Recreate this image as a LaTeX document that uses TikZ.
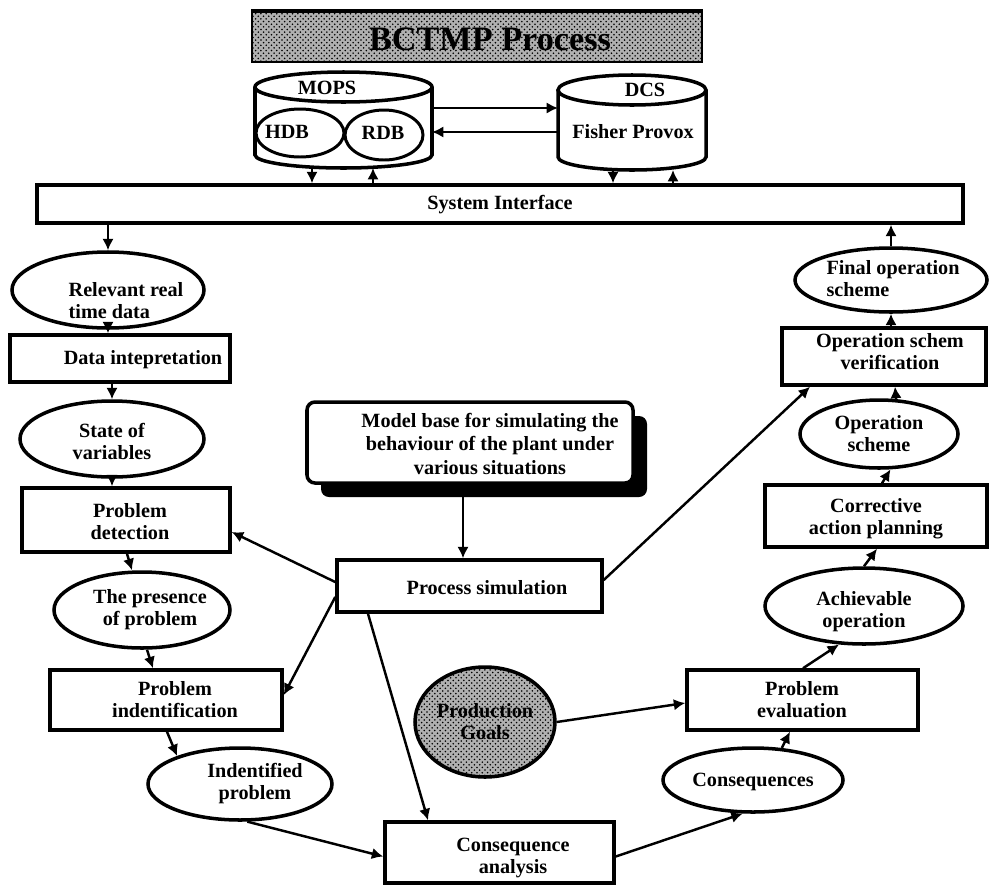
\documentclass[tikz,border=0pt]{standalone}
\usepackage{fontspec}
\setmainfont{Liberation Serif}
\usetikzlibrary{shapes.geometric,arrows.meta,patterns,shadows}
\newdimen\pxu \pxu=0.02cm
\begin{document}
\begin{tikzpicture}[x=0.02cm,y=-0.02cm,
  lbl/.style={font=\bfseries\fontsize{11.5}{12.5}\selectfont, align=center, inner sep=0pt},
  box/.style={draw, line width=2pt, fill=white, rectangle, inner sep=0pt},
  oval/.style={draw, line width=2pt, fill=white, ellipse, inner sep=0pt},
  cyl/.style={draw, line width=2pt, fill=white},
  ghost/.style={inner sep=0pt, outer sep=0pt},
  arr/.style={line width=1.4pt, -{Latex[length=6.5pt,width=6.5pt]}},
  hatch/.style={preaction={fill=gray!62}, pattern=crosshatch dots, pattern color=black},
]
\useasboundingbox (0,0) rectangle (990,886);

% ---- title banner ----
\node[hatch, draw, line width=1pt, inner sep=0pt, minimum width=450\pxu, minimum height=50\pxu] (banner) at (477,37) {};
\draw[line width=2.5pt] (banner.north west) -- (banner.north east);
\node[font=\bfseries\fontsize{19.5}{22}\selectfont, inner sep=0pt] (title) at (490,39) {BCTMP Process};

% ---- databases ----
\node[ghost, minimum width=177\pxu, minimum height=96\pxu] (mops) at (343.5,120) {};
\filldraw[cyl] (255,87) -- (255,155) arc[start angle=180, end angle=360, x radius=88.5\pxu, y radius=13\pxu] -- (432,87);
\draw[cyl] (343.5,87) ellipse[x radius=88.5\pxu, y radius=15\pxu];
\node[oval, line width=1.7pt, minimum width=88\pxu, minimum height=48\pxu] (hdb) at (300,133) {};
\node[oval, line width=1.7pt, minimum width=78\pxu, minimum height=50\pxu] (rdb) at (384,135) {};

\node[ghost, minimum width=148\pxu, minimum height=95\pxu] (dcs) at (632,122.5) {};
\filldraw[cyl] (558,90) -- (558,157) arc[start angle=180, end angle=360, x radius=74\pxu, y radius=13\pxu] -- (706,90);
\draw[cyl] (632,90) ellipse[x radius=74\pxu, y radius=15\pxu];

% ---- system interface ----
\node[box, minimum width=926\pxu, minimum height=38\pxu] (si) at (500,204) {};

% ---- left chain ----
\node[oval, minimum width=192\pxu, minimum height=76\pxu] (rel) at (108,290) {};
\node[box, minimum width=220\pxu, minimum height=47\pxu] (dint) at (120,358.5) {};
\node[oval, minimum width=184\pxu, minimum height=76\pxu] (state) at (112,439) {};
\node[box, minimum width=208\pxu, minimum height=64\pxu] (pdet) at (126,520) {};
\node[oval, minimum width=176\pxu, minimum height=76\pxu] (pres) at (142,610) {};
\node[box, minimum width=232\pxu, minimum height=60\pxu] (pid) at (166,700) {};
\node[oval, minimum width=184\pxu, minimum height=72\pxu] (idp) at (240,784) {};
\node[box, minimum width=229\pxu, minimum height=61\pxu] (conan) at (499.5,852.5) {};

% ---- centre ----
\node[box, rounded corners=8\pxu, minimum width=326\pxu, minimum height=81\pxu,
      general shadow={fill=black, shadow xshift=14\pxu, shadow yshift=-14\pxu}] (model) at (470,442.5) {};
\node[box, minimum width=265\pxu, minimum height=52\pxu] (psim) at (469.5,586) {};
\node[hatch, draw, ellipse, line width=2pt, inner sep=0pt, minimum width=140\pxu, minimum height=110\pxu] (pgoal) at (485,722) {};

% ---- right chain ----
\node[oval, minimum width=180\pxu, minimum height=64\pxu] (cons) at (753,780) {};
\node[box, minimum width=231\pxu, minimum height=60\pxu] (peval) at (802.5,700) {};
\node[oval, minimum width=198\pxu, minimum height=76\pxu] (achv) at (864,606) {};
\node[box, minimum width=222\pxu, minimum height=62\pxu] (corr) at (876,516) {};
\node[oval, minimum width=158\pxu, minimum height=68\pxu] (opsch) at (879,434) {};
\node[box, minimum width=204\pxu, minimum height=57\pxu] (verif) at (884,356.5) {};
\node[oval, minimum width=192\pxu, minimum height=64\pxu] (fos) at (891,280) {};

% ---- connectors: databases and interface ----
\draw[arr] (mops.east |- 0,108) -- (dcs.west |- 0,108);
\draw[arr] (dcs.west |- 0,132) -- (mops.east |- 0,132);
\draw[arr] (mops.south -| 312,0) -- (si.north -| 312,0);
\draw[arr] (si.north -| 373,0) -- (mops.south -| 373,0);
\draw[arr] (dcs.south -| 613,0) -- (si.north -| 613,0);
\draw[arr] (si.north -| 673,0) -- (dcs.south -| 673,0);

% ---- connectors: left chain ----
\draw[arr] (si.south -| rel.north) -- (rel.north);
\draw[arr] (rel.south) -- (rel.south |- dint.north);
\draw[arr] (dint.south -| state.north) -- (state.north);
\draw[arr] (state.south) -- (state.south |- pdet.north);
\draw[arr] (pdet.south -| 127,0) -- (pres.north -| 132,0);
\draw[arr] (pres.south -| 147,0) -- (pid.north -| 153,0);
\draw[arr] (pid.south -| 167,0) -- (idp.156);
\draw[arr] (idp.281) -- ([yshift=-4\pxu]conan.west);

% ---- connectors: simulation ----
\draw[arr] (model.south -| 463,0) -- (psim.north -| 463,0);
\draw[arr] ([yshift=4\pxu]psim.west) -- ([yshift=-12\pxu]pdet.east);
\draw[arr] ([yshift=-11\pxu]psim.west) -- ([yshift=5\pxu]pid.east);
\draw[arr] (psim.south -| 368,0) -- (conan.north -| 428,0);
\draw[arr] ([yshift=6\pxu]psim.east) -- (verif.south -| 810,0);

% ---- connectors: right chain ----
\draw[arr] ([yshift=-4\pxu]conan.east) -- (cons.253);
\draw[arr] (cons.48) -- (peval.south -| 790,0);
\draw[arr] (pgoal.east) -- ([yshift=-3\pxu]peval.west);
\draw[arr] (peval.north -| 803,0) -- (achv.237);
\draw[arr] (achv.north) -- (corr.south -| 877,0);
\draw[arr] (corr.north -| 882,0) -- (opsch.288);
\draw[arr] (opsch.64) -- (verif.south -| 895,0);
\draw[arr] (verif.north -| fos.south) -- (fos.south);
\draw[arr] (fos.north) -- (si.south -| fos.north);

% ---- labels ----
\node[lbl] (mops-t) at (327,88) {MOPS};
\node[lbl] (hdb-t) at (287,132) {HDB};
\node[lbl] (rdb-t) at (383,133) {RDB};
\node[lbl] (dcs-t) at (645,90) {DCS};
\node[lbl] (fp-t) at (633,132) {Fisher Provox};
\node[lbl] (si-t) at (500,205) {System Interface};
\node[lbl, align=left] (rel-t) at (126,301) {Relevant real\\time data};
\node[lbl] (dint-t) at (143,360) {Data intepretation};
\node[lbl] (state-t) at (112,441) {State of\\variables};
\node[lbl] (pdet-t) at (130,522) {Problem\\detection};
\node[lbl] (pres-t) at (150,610) {The presence\\of problem};
\node[lbl] (pid-t) at (175,700) {Problem\\indentification};
\node[lbl] (idp-t) at (255,784) {Indentified\\problem};
\node[lbl] (conan-t) at (513,858) {Consequence\\analysis};
\node[lbl, font=\bfseries\fontsize{11.5}{13.3}\selectfont] (model-t) at (490,444) {Model base for simulating the\\behaviour of the plant under\\various situations};
\node[lbl] (psim-t) at (487,588) {Process simulation};
\node[lbl] (pgoal-t) at (485,722) {Production\\Goals};
\node[lbl] (cons-t) at (753,782) {Consequences};
\node[lbl] (peval-t) at (802,700) {Problem\\evaluation};
\node[lbl] (achv-t) at (864,612) {Achievable\\operation};
\node[lbl] (corr-t) at (876,519) {Corrective\\action planning};
\node[lbl] (opsch-t) at (879,434) {Operation\\scheme};
\node[lbl] (verif-t) at (890,352) {Operation schem\\verification};
\node[lbl, align=left] (fos-t) at (893,279) {Final operation\\scheme};
\end{tikzpicture}
\end{document}
